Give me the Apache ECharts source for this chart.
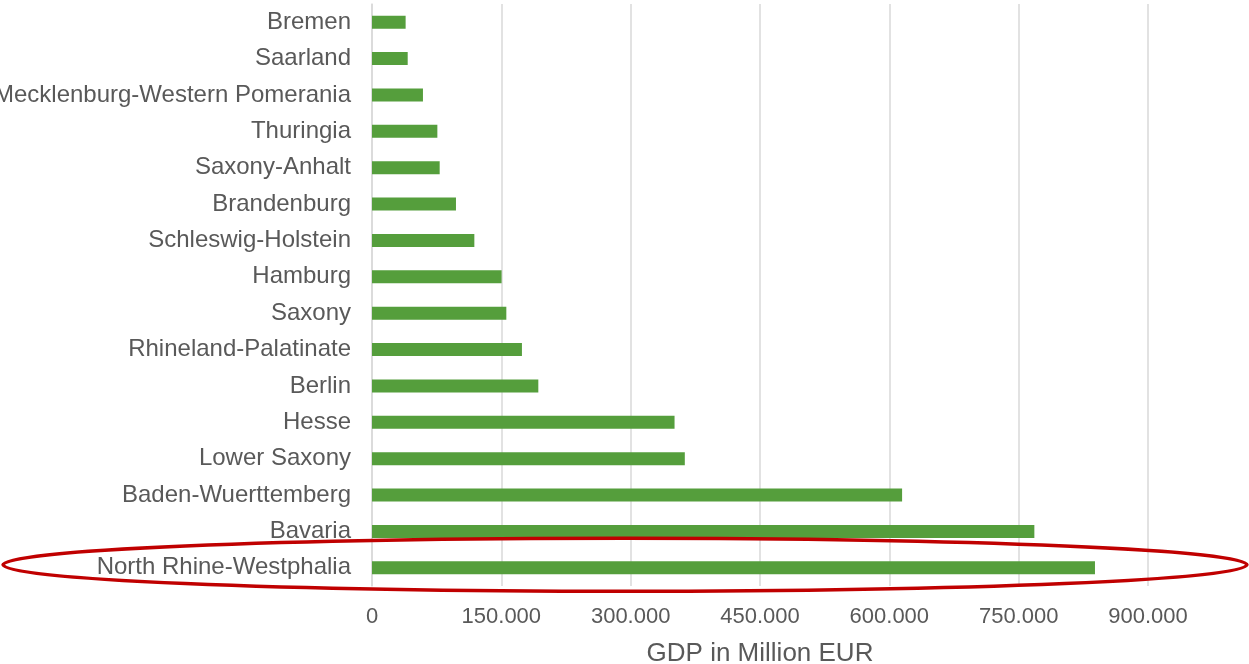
<!DOCTYPE html>
<html>
<head>
<meta charset="utf-8">
<title>GDP by German state</title>
<script src="https://cdn.jsdelivr.net/npm/echarts@6/dist/echarts.min.js"></script>
<style>
  html, body { margin: 0; padding: 0; background: #ffffff; overflow: hidden; }
  #chart { width: 1249px; height: 664px; }
</style>
</head>
<body>
<div id="chart"></div>
<script>
// German federal states, listed top to bottom
const states = [
  'Bremen', 'Saarland', 'Mecklenburg-Western Pomerania', 'Thuringia',
  'Saxony-Anhalt', 'Brandenburg', 'Schleswig-Holstein', 'Hamburg',
  'Saxony', 'Rhineland-Palatinate', 'Berlin', 'Hesse', 'Lower Saxony',
  'Baden-Wuerttemberg', 'Bavaria', 'North Rhine-Westphalia'
];

// GDP in million EUR
const gdp = [
  39000, 41400, 59100, 75800,
  78500, 97400, 118700, 150300,
  155800, 173900, 192900, 350900, 362800,
  614800, 768200, 838500
];

// Value axis ticks
const axisMin = 0;
const axisMax = 900000;
const axisStep = 150000;

// The state that gets circled
const highlighted = 'North Rhine-Westphalia';

const fontFamily = '"Liberation Sans", Arial, sans-serif';
const textColor = '#595959';
const gridColor = '#d9d9d9';

function thousands(v) {
  return String(v).replace(/\B(?=(\d{3})+(?!\d))/g, '.');
}

const chart = echarts.init(document.getElementById('chart'), null, { renderer: 'canvas' });

chart.setOption({
  animation: false,
  backgroundColor: '#ffffff',
  grid: {
    left: 372, right: 101, top: 4, bottom: 78,
    containLabel: false,
    // let the long state name run past the left edge
    outerBoundsMode: 'none'
  },
  xAxis: {
    type: 'value',
    min: axisMin,
    max: axisMax,
    interval: axisStep,
    name: 'GDP in Million EUR',
    nameLocation: 'middle',
    nameGap: 55,
    nameTextStyle: { color: textColor, fontSize: 26, fontFamily: fontFamily },
    axisLine: { show: false },
    axisTick: { show: false },
    axisLabel: {
      color: textColor, fontSize: 22, fontFamily: fontFamily, margin: 20,
      formatter: thousands
    },
    splitLine: { show: true, lineStyle: { color: gridColor, width: 1.5 } }
  },
  yAxis: {
    type: 'category',
    data: states,
    inverse: true,
    axisLine: { show: true, lineStyle: { color: gridColor, width: 1.5 } },
    axisTick: { show: false },
    axisLabel: {
      color: textColor, fontSize: 24, fontFamily: fontFamily, margin: 21,
      padding: [3, 0, 0, 0]
    },
    splitLine: { show: false }
  },
  series: [{
    type: 'bar',
    data: gdp,
    barWidth: 13,
    itemStyle: { color: '#559e3c' }
  }]
});

// Red ellipse circling the highlighted row
const rowY = chart.convertToPixel({ yAxisIndex: 0 }, highlighted);
chart.setOption({
  graphic: [{
    type: 'ellipse',
    shape: { cx: 625, cy: rowY - 3, rx: 622, ry: 26.5 },
    style: { fill: 'none', stroke: '#c00000', lineWidth: 3.5 },
    z: 100
  }]
});
</script>
</body>
</html>
